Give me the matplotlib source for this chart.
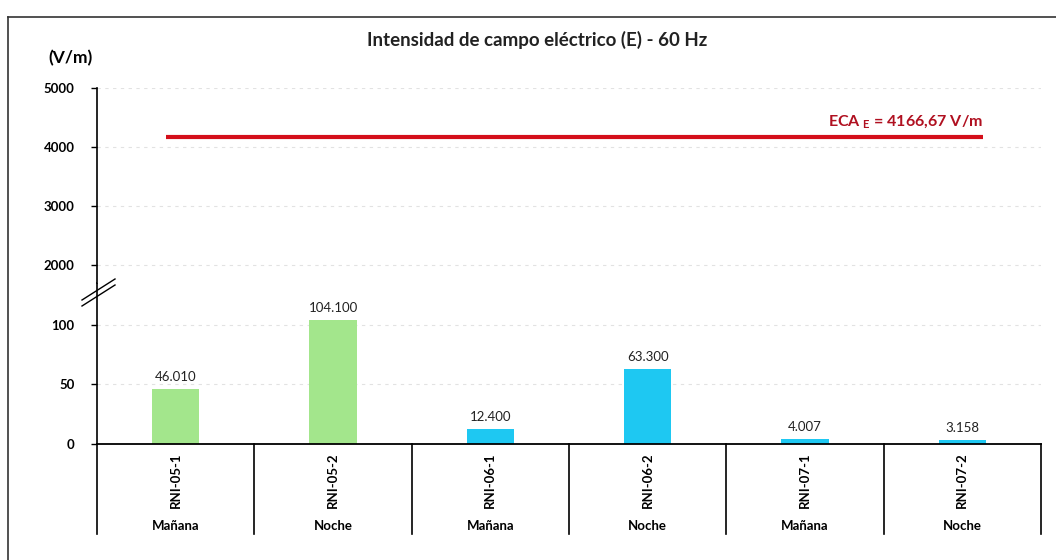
import matplotlib.pyplot as plt
from matplotlib.lines import Line2D

plt.rcParams['font.family'] = ['Lato', 'DejaVu Sans']

# data
stations = ["RNI-05-1", "RNI-05-2", "RNI-06-1", "RNI-06-2", "RNI-07-1", "RNI-07-2"]
periods = ["Mañana", "Noche", "Mañana", "Noche", "Mañana", "Noche"]
values = [46.010, 104.100, 12.400, 63.300, 4.007, 3.158]
value_labels = ["46.010", "104.100", "12.400", "63.300", "4.007", "3.158"]
bar_colors = ["#a3e68c", "#a3e68c", "#1ec8f2", "#1ec8f2", "#1ec8f2", "#1ec8f2"]
eca_value = 4166.67
eca_label = r"ECA$_{\ \mathregular{E}}$ = 4166,67 V/m"
low_ticks = [0, 50, 100]
high_ticks = [2000, 3000, 4000, 5000]

W, H = 1056, 560
fig = plt.figure(figsize=(W / 100, H / 100), dpi=100)

def fx(px):
    return px / W

def fy(py):
    return 1 - py / H

left, right = 97, 1041
y_zero, y_break, y_top = 444, 283, 88

ax_lo = fig.add_axes([fx(left), fy(y_zero), fx(right - left), fy(y_break) - fy(y_zero)])
ax_hi = fig.add_axes([fx(left), fy(y_break), fx(right - left), fy(y_top) - fy(y_break)], sharex=ax_lo)

x = list(range(len(stations)))
for ax in (ax_lo, ax_hi):
    ax.bar(x, values, width=0.3, color=bar_colors, zorder=2)
    ax.set_xlim(-0.5, len(stations) - 0.5)
    for s in ("top", "right"):
        ax.spines[s].set_visible(False)
    ax.spines["left"].set_linewidth(1.2)
    ax.tick_params(axis="y", length=4, width=1, labelsize=9.5, pad=12)

ax_lo.set_ylim(0, 135)
ax_hi.set_ylim(1693, 5000)
ax_lo.set_yticks(low_ticks)
ax_hi.set_yticks(high_ticks)
for ax in (ax_lo, ax_hi):
    for lab in ax.get_yticklabels():
        lab.set_fontweight("bold")
    ax.yaxis.grid(True, color="#e2e2e2", linestyle=(0, (3, 4)), linewidth=0.8, zorder=0)

ax_hi.spines["bottom"].set_visible(False)
ax_hi.tick_params(axis="x", bottom=False, labelbottom=False)
ax_lo.spines["bottom"].set_linewidth(1.3)
ax_lo.set_xticks(x)
ax_lo.tick_params(axis="x", length=0, labelbottom=False)

# ECA limit line
ax_hi.plot([-0.06, 5.13], [eca_value, eca_value], color="#d40f1a", linewidth=3, solid_capstyle="butt", zorder=3)
ax_hi.text(5.13, eca_value + 110, eca_label, color="#b01020", fontsize=11.5, fontweight="bold",
           ha="right", va="bottom")

# value labels
for xi, v, lab in zip(x, values, value_labels):
    ax_lo.text(xi, v + 5, lab, ha="center", va="bottom", fontsize=9.5, color="#222222")

# category labels and dividers below the axis
trans = ax_lo.get_xaxis_transform()
for xi, st, pe in zip(x, stations, periods):
    ax_lo.text(xi, -0.05, st, transform=trans, rotation=90, ha="center", va="top",
               fontsize=9.5, fontweight="bold")
    ax_lo.text(xi, -0.475, pe, transform=trans, ha="center", va="top",
               fontsize=9.5, fontweight="bold")
for b in [i - 0.5 for i in range(len(stations) + 1)]:
    ax_lo.plot([b, b], [0, -0.56], transform=trans, color="black", linewidth=1.2, clip_on=False)

# axis break marks
for dy in (0, 6):
    fig.add_artist(Line2D([fx(82), fx(115)], [fy(300 + dy), fy(279 + dy)], color="black", linewidth=1.0))

# y unit label and title
fig.text(fx(48), fy(58), "(V/m)", fontsize=12.5, fontweight="bold", va="center", ha="left")
fig.text(fx(537), fy(40), "Intensidad de campo eléctrico (E) - 60 Hz", fontsize=13.5,
         fontweight="bold", ha="center", va="center", color="#222222")

# outer frame (top and left edges)
fig.add_artist(Line2D([fx(8), 1], [fy(17), fy(17)], color="#333333", linewidth=1.2))
fig.add_artist(Line2D([fx(8), fx(8)], [fy(17), 0], color="#333333", linewidth=1.2))

fig.savefig("out.png", dpi=100)
